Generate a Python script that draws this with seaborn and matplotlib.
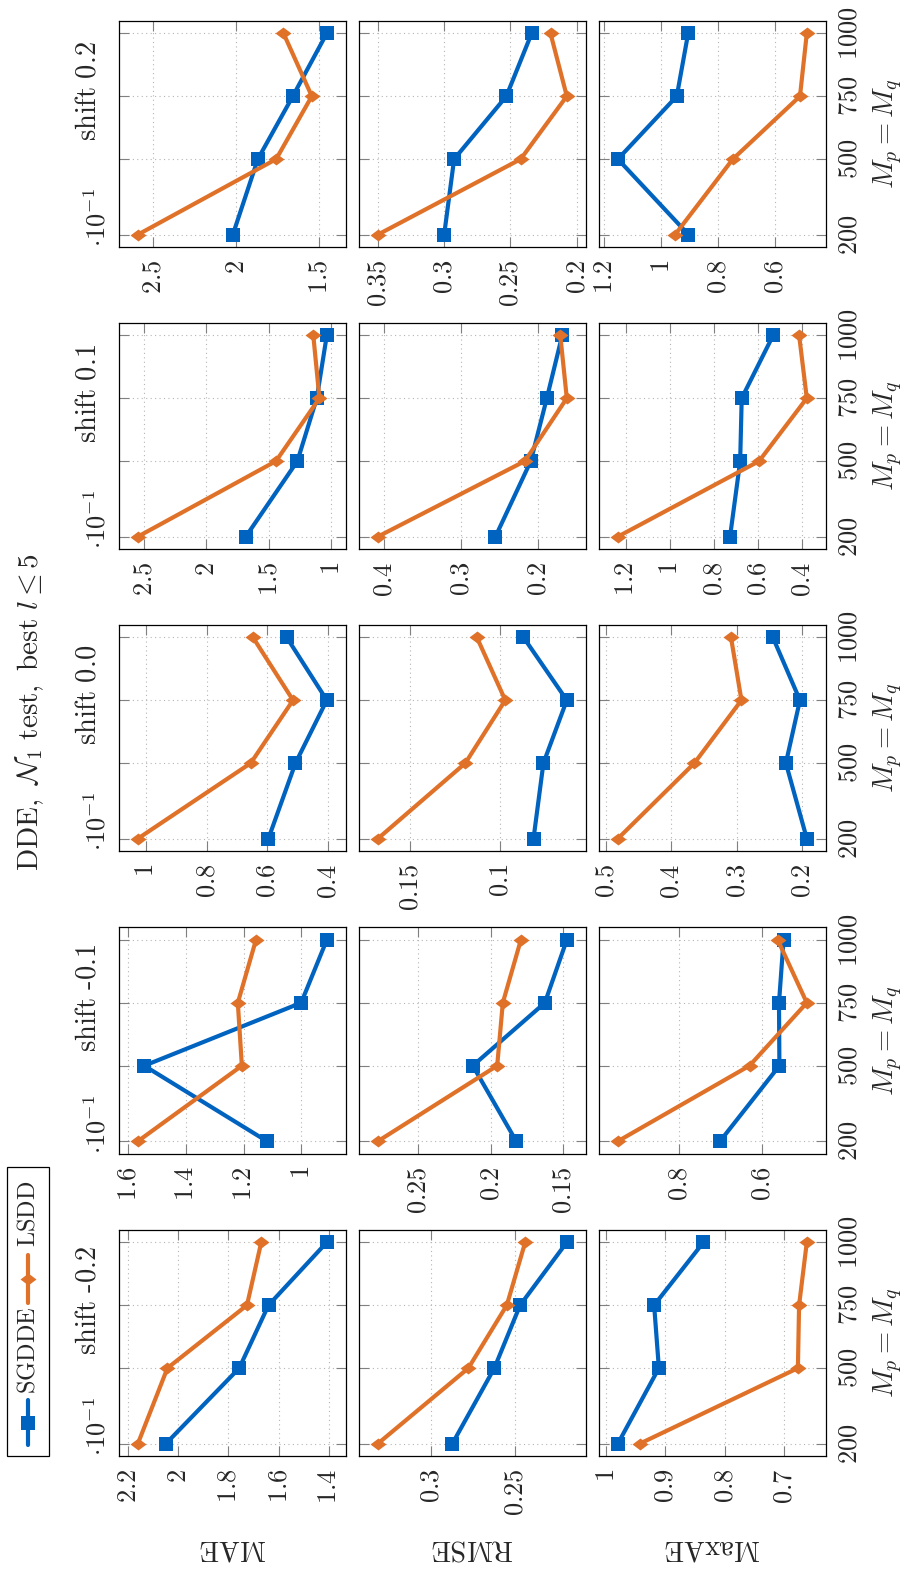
import numpy as np
import pandas as pd
import matplotlib
matplotlib.use("Agg")
import matplotlib.pyplot as plt
import seaborn as sns
from matplotlib.path import Path
from matplotlib.lines import Line2D
from matplotlib.patches import Rectangle
from matplotlib.ticker import FixedLocator, FuncFormatter

# ---------------- data ----------------
Mp = [200, 500, 750, 1000]
shifts = ["-0.2", "-0.1", "0.0", "0.1", "0.2"]
metrics = ["MAE", "RMSE", "MaxAE"]
methods = ["SGDDE", "LSDD"]

# MAE values are shown in units of 10^-1
MAE_SGDDE = {"-0.2": [2.05, 1.757, 1.64, 1.407],
             "-0.1": [1.119, 1.545, 1.0, 0.911],
             "0.0": [0.597, 0.508, 0.405, 0.537],
             "0.1": [1.683, 1.271, 1.116, 1.036],
             "0.2": [2.02, 1.87, 1.66, 1.456]}
MAE_LSDD = {"-0.2": [2.162, 2.044, 1.726, 1.669],
            "-0.1": [1.567, 1.206, 1.22, 1.157],
            "0.0": [1.026, 0.655, 0.516, 0.648],
            "0.1": [2.545, 1.442, 1.095, 1.144],
            "0.2": [2.59, 1.76, 1.546, 1.716]}
RMSE_SGDDE = {"-0.2": [0.2872, 0.2623, 0.247, 0.2193],
              "-0.1": [0.1822, 0.2123, 0.1624, 0.1472],
              "0.0": [0.0811, 0.0756, 0.0626, 0.0867],
              "0.1": [0.2549, 0.2089, 0.188, 0.168],
              "0.2": [0.300, 0.2925, 0.2531, 0.234]}
RMSE_LSDD = {"-0.2": [0.3314, 0.2777, 0.2549, 0.244],
             "-0.1": [0.278, 0.1954, 0.1915, 0.179],
             "0.0": [0.1676, 0.119, 0.0968, 0.1126],
             "0.1": [0.408, 0.2166, 0.162, 0.1705],
             "0.2": [0.350, 0.2423, 0.2075, 0.2198]}
MAXAE_SGDDE = {"-0.2": [0.980, 0.911, 0.919, 0.836],
               "-0.1": [0.702, 0.559, 0.560, 0.549],
               "0.0": [0.193, 0.225, 0.2035, 0.245],
               "0.1": [0.726, 0.680, 0.673, 0.530],
               "0.2": [0.904, 1.152, 0.945, 0.905]}
MAXAE_LSDD = {"-0.2": [0.943, 0.677, 0.675, 0.662],
              "-0.1": [0.948, 0.631, 0.493, 0.563],
              "0.0": [0.482, 0.365, 0.293, 0.309],
              "0.1": [1.236, 0.594, 0.377, 0.412],
              "0.2": [0.951, 0.748, 0.512, 0.488]}

TICKS = {
    ("MAE", "0.2"): [2.5, 2, 1.5], ("RMSE", "0.2"): [0.35, 0.3, 0.25, 0.2], ("MaxAE", "0.2"): [1.2, 1, 0.8, 0.6],
    ("MAE", "0.1"): [2.5, 2, 1.5, 1], ("RMSE", "0.1"): [0.4, 0.3, 0.2], ("MaxAE", "0.1"): [1.2, 1, 0.8, 0.6, 0.4],
    ("MAE", "0.0"): [1, 0.8, 0.6, 0.4], ("RMSE", "0.0"): [0.15, 0.1], ("MaxAE", "0.0"): [0.5, 0.4, 0.3, 0.2],
    ("MAE", "-0.1"): [1.6, 1.4, 1.2, 1], ("RMSE", "-0.1"): [0.25, 0.2, 0.15], ("MaxAE", "-0.1"): [0.8, 0.6],
    ("MAE", "-0.2"): [2.2, 2, 1.8, 1.6, 1.4], ("RMSE", "-0.2"): [0.3, 0.25], ("MaxAE", "-0.2"): [1, 0.9, 0.8, 0.7],
}

DATA = {"MAE": (MAE_SGDDE, MAE_LSDD), "RMSE": (RMSE_SGDDE, RMSE_LSDD), "MaxAE": (MAXAE_SGDDE, MAXAE_LSDD)}

# ---------------- style ----------------
sns.set_style("white")
plt.rcParams["font.family"] = ["DejaVu Serif"]
plt.rcParams["mathtext.fontset"] = "cm"

BLUE = "#0063BF"
ORANGE = "#E07128"
palette = {"SGDDE": BLUE, "LSDD": ORANGE}
diamond = Path([(-1, 0), (0, 0.75), (1, 0), (0, -0.75), (-1, 0)],
               [Path.MOVETO, Path.LINETO, Path.LINETO, Path.LINETO, Path.CLOSEPOLY])
markers = {"SGDDE": "s", "LSDD": diamond}
msize = {"SGDDE": 10.0, "LSDD": 11.5}

W, H = 907, 1569
fig = plt.figure(figsize=(W / 100, H / 100), dpi=100)

col_left = {"MAE": 119, "RMSE": 359, "MaxAE": 599}
row_top = {"0.2": 20.7, "0.1": 322.7, "0.0": 624.7, "-0.1": 927.3, "-0.2": 1229.7}
PW, PH = 226.7, 226.5

TICK_FS = 19
TITLE_FS = 20.5


def fx(px):
    return px / W


def fy(py):
    return 1 - py / H


fmt = FuncFormatter(lambda v, p: f"${v:g}$")

for metric in metrics:
    sg, ls = DATA[metric]
    for s in shifts:
        l, t = col_left[metric], row_top[s]
        ax = fig.add_axes([fx(l), fy(t + PH), PW / W, PH / H])
        df = pd.DataFrame({
            "Mp": Mp + Mp,
            "value": sg[s] + ls[s],
            "method": ["SGDDE"] * len(Mp) + ["LSDD"] * len(Mp),
        })
        for m in methods:
            sns.lineplot(data=df[df.method == m], x="value", y="Mp", orient="y",
                         color=palette[m], marker=markers[m], markersize=msize[m],
                         markeredgewidth=0, lw=3.0, estimator=None, errorbar=None,
                         legend=False, ax=ax, zorder=3)
        vals = sg[s] + ls[s]
        lo, hi = min(vals), max(vals)
        span = hi - lo
        ax.set_xlim(hi + 0.1 * span, lo - 0.1 * span)
        ax.set_ylim(150, 1050)
        ax.xaxis.set_major_locator(FixedLocator(TICKS[(metric, s)]))
        ax.xaxis.set_major_formatter(fmt)
        ax.yaxis.set_major_locator(FixedLocator(Mp))
        ax.yaxis.set_major_formatter(fmt)
        ax.set_xlabel("")
        ax.set_ylabel("")
        ax.grid(True, linestyle=(0, (1, 3)), color="#b5b5b5", lw=0.8, zorder=0)
        for sp in ax.spines.values():
            sp.set_color("black")
            sp.set_linewidth(0.9)
        ax.tick_params(axis="both", direction="in", length=7, width=0.8, color="#808080",
                       top=True, bottom=True, left=True, right=True, labelsize=TICK_FS)
        ax.tick_params(axis="x", labelbottom=True, labeltop=False, labelrotation=90, pad=9)
        ax.tick_params(axis="y", labelleft=False, labelright=(metric == "MaxAE"),
                       labelrotation=90, pad=8)
        plt.setp(ax.get_yticklabels(), va="center")

        if metric == "MAE":
            fig.text(fx(88), fy(t + PH / 2 - 43), r"$\mathrm{shift}\ \text{" + s + "}$",
                     rotation=90, ha="center", va="center", fontsize=TITLE_FS)
            fig.text(fx(97), fy(t + PH), r"$\cdot 10^{-1}$", rotation=90,
                     ha="center", va="bottom", fontsize=TICK_FS)
        if metric == "MaxAE":
            fig.text(fx(888), fy(t + PH / 2), r"$M_p = M_q$", rotation=90,
                     ha="center", va="center", fontsize=TITLE_FS)

# row labels (rotated figure)
for metric, cx in zip(metrics, [233, 472, 712]):
    fig.text(fx(cx), fy(1548), r"$\mathrm{" + metric + "}$", rotation=180,
             ha="center", va="center", fontsize=TITLE_FS)

# main title
fig.text(fx(30), fy(712), r"$\mathrm{DDE},\ \mathcal{N}_1\ \mathrm{test},\ \mathrm{best}\ l \leq 5$",
         rotation=90, ha="center", va="center", fontsize=21)

# legend
fig.add_artist(Rectangle((fx(7), fy(1456)), 42 / W, 289 / H, transform=fig.transFigure,
                         facecolor="white", edgecolor="black", lw=0.9))
for m, (y0, y1, ym, ytxt) in zip(methods, [(1445, 1400, 1423, 1350), (1303, 1255, 1279, 1214)]):
    fig.add_artist(Line2D([fx(28.3), fx(28.3)], [fy(y0), fy(y1)], transform=fig.transFigure,
                          color=palette[m], lw=3.0))
    fig.add_artist(Line2D([fx(28.3)], [fy(ym)], transform=fig.transFigure, color=palette[m],
                          marker=markers[m], markersize=msize[m], markeredgewidth=0, lw=0))
    fig.text(fx(28.3), fy(ytxt), r"$\mathrm{" + m + "}$", rotation=90, ha="center",
             va="center", fontsize=17.5)

fig.savefig("out.png", dpi=100)
